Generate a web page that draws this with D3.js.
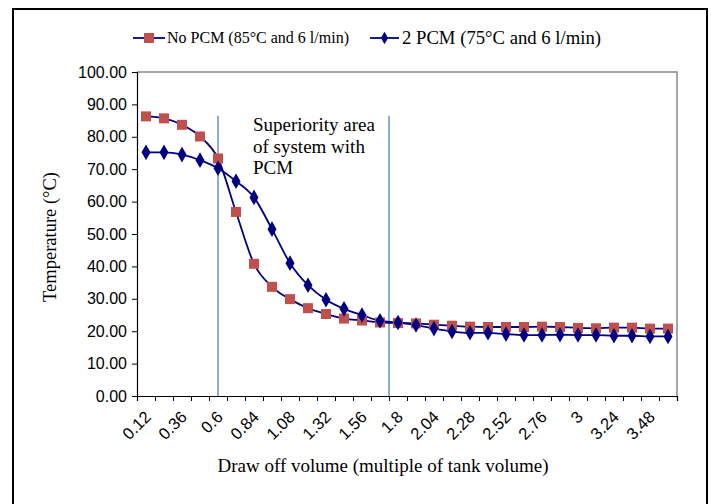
<!DOCTYPE html>
<html>
<head>
<meta charset="utf-8">
<script src="https://cdn.jsdelivr.net/npm/d3@7"></script>
<style>
  body { margin: 0; background: #fff; }
  svg { display: block; }
</style>
</head>
<body>
<div id="chart"></div>
<script>
// draw-off volume categories (multiple of tank volume)
var categories = ["0.12", "0.24", "0.36", "0.48", "0.6", "0.72", "0.84", "0.96", "1.08", "1.2",
  "1.32", "1.44", "1.56", "1.68", "1.8", "1.92", "2.04", "2.16", "2.28", "2.4",
  "2.52", "2.64", "2.76", "2.88", "3", "3.12", "3.24", "3.36", "3.48", "3.6"];

var noPcm = [86.3, 85.7, 83.7, 80.1, 73.3, 56.8, 40.8, 33.7, 29.9, 27.1,
  25.3, 23.9, 23.3, 22.7, 22.5, 22.4, 22.0, 21.7, 21.4, 21.3,
  21.3, 21.3, 21.4, 21.3, 21.0, 20.9, 21.1, 21.1, 20.8, 20.8];

var twoPcm = [75.2, 75.2, 74.5, 72.8, 70.3, 66.3, 61.3, 51.5, 41.0, 34.2,
  29.7, 26.9, 25.0, 23.2, 22.7, 21.9, 20.8, 19.9, 19.5, 19.5,
  19.1, 18.8, 18.8, 18.9, 18.8, 18.8, 18.6, 18.6, 18.4, 18.4];

var yTicks = [0, 10, 20, 30, 40, 50, 60, 70, 80, 90, 100];

// vertical lines bounding the "superiority" area, in category units
var dividerAt = [4.5, 14];
var dividerTop = 86.5;

var W = 711, H = 504;
var margin = {top: 72, right: 34, bottom: 108, left: 137},
    width = W - margin.left - margin.right,
    height = H - margin.top - margin.bottom;

var serif = "'Liberation Serif', 'Times New Roman', serif",
    sans = "'Liberation Sans', Arial, sans-serif";

var svg = d3.select("#chart").append("svg")
    .attr("width", W)
    .attr("height", H);

// outer frame
svg.append("rect")
    .attr("x", 13).attr("y", 9)
    .attr("width", 694).attr("height", 510)
    .attr("fill", "none")
    .attr("stroke", "#000")
    .attr("stroke-width", 2);

var g = svg.append("g")
    .attr("transform", "translate(" + margin.left + "," + margin.top + ")");

var x = d3.scaleBand().domain(categories).range([0, width]).padding(0);
var xi = d3.scaleLinear().domain([0, categories.length]).range([0, width]);
var y = d3.scaleLinear().domain([0, 100]).range([height, 0]);

// plot area border (top and right, grey)
g.append("path")
    .attr("d", "M0,0H" + width + "V" + height)
    .attr("fill", "none")
    .attr("stroke", "#888")
    .attr("stroke-width", 1.5);

// y axis
var yAxis = g.append("g")
    .call(d3.axisLeft(y).tickValues(yTicks).tickSize(5).tickFormat(d3.format(".2f")));
yAxis.select(".domain").attr("stroke", "#000").attr("stroke-width", 1.2);
yAxis.selectAll(".tick line").attr("stroke", "#000");
yAxis.selectAll("text")
    .attr("x", -10)
    .style("font-family", sans)
    .style("font-size", "16px")
    .attr("fill", "#000");

// x axis: tick marks between categories
var xAxis = g.append("g")
    .attr("transform", "translate(0," + height + ")")
    .call(d3.axisBottom(xi).tickValues(d3.range(categories.length + 1)).tickSize(5).tickFormat(""));
xAxis.select(".domain").attr("stroke", "#000").attr("stroke-width", 1.2);
xAxis.selectAll(".tick line").attr("stroke", "#000");

// x labels, every other category, rotated
var xLab = g.append("g")
    .attr("transform", "translate(0," + height + ")")
    .call(d3.axisBottom(x).tickSize(0).tickValues(categories.filter(function(d, i) { return i % 2 === 0; })));
xLab.select(".domain").remove();
xLab.selectAll("text")
    .attr("y", 0).attr("dy", 0)
    .attr("transform", "translate(6,22) rotate(-45)")
    .style("text-anchor", "end")
    .style("font-family", sans)
    .style("font-size", "16.5px")
    .attr("fill", "#000");

// divider lines
g.selectAll(".divider")
    .data(dividerAt)
    .enter().append("line")
    .attr("class", "divider")
    .attr("x1", function(d) { return xi(d); })
    .attr("x2", function(d) { return xi(d); })
    .attr("y1", y(dividerTop))
    .attr("y2", height)
    .attr("stroke", "#4F81BD")
    .attr("stroke-width", 1.3);

var cx = function(d, i) { return x(categories[i]) + x.bandwidth() / 2; };

var line = d3.line()
    .x(function(d, i) { return x(categories[i]) + x.bandwidth() / 2; })
    .y(function(d) { return y(d); })
    .curve(d3.curveMonotoneX);

// series 2 PCM
g.append("path").datum(twoPcm)
    .attr("d", line).attr("fill", "none")
    .attr("stroke", "#000080").attr("stroke-width", 1.8);
// series No PCM
g.append("path").datum(noPcm)
    .attr("d", line).attr("fill", "none")
    .attr("stroke", "#000080").attr("stroke-width", 1.8);

g.selectAll(".sq")
    .data(noPcm)
    .enter().append("rect")
    .attr("class", "sq")
    .attr("x", function(d, i) { return cx(d, i) - 5; })
    .attr("y", function(d) { return y(d) - 5; })
    .attr("width", 10).attr("height", 10)
    .attr("fill", "#C0504D");

var diamond = d3.symbol().type(d3.symbolDiamond).size(70);
g.selectAll(".dm")
    .data(twoPcm)
    .enter().append("path")
    .attr("class", "dm")
    .attr("d", diamond)
    .attr("transform", function(d, i) { return "translate(" + cx(d, i) + "," + y(d) + ")"; })
    .attr("fill", "#000080");

// annotation
var note = g.append("text")
    .attr("x", 116)
    .attr("y", 59)
    .style("font-family", serif)
    .style("font-size", "19px")
    .attr("fill", "#000");
["Superiority area", "of system with", "PCM"].forEach(function(t, i) {
  note.append("tspan").attr("x", 116).attr("dy", i === 0 ? 0 : 21.5).text(t);
});

// axis titles
svg.append("text")
    .attr("x", 383)
    .attr("y", 472)
    .attr("text-anchor", "middle")
    .style("font-family", serif)
    .style("font-size", "19px")
    .text("Draw off volume (multiple of tank volume)");

svg.append("text")
    .attr("transform", "translate(56,237) rotate(-90)")
    .attr("text-anchor", "middle")
    .style("font-family", serif)
    .style("font-size", "18.5px")
    .text("Temperature (°C)");

// legend
var legend = svg.append("g");
var leg1 = legend.append("g").attr("transform", "translate(133,38)");
leg1.append("line").attr("x1", 0).attr("x2", 32).attr("stroke", "#000080").attr("stroke-width", 1.8);
leg1.append("rect").attr("x", 11).attr("y", -5).attr("width", 10).attr("height", 10).attr("fill", "#C0504D");
leg1.append("text").attr("x", 34).attr("y", 5)
    .style("font-family", serif)
    .style("font-size", "16px")
    .text("No PCM (85°C and 6 l/min)");

var leg2 = legend.append("g").attr("transform", "translate(370,38)");
leg2.append("line").attr("x1", 0).attr("x2", 29).attr("stroke", "#000080").attr("stroke-width", 1.8);
leg2.append("path").attr("d", d3.symbol().type(d3.symbolDiamond).size(45))
    .attr("transform", "translate(14.5,0)").attr("fill", "#000080");
leg2.append("text").attr("x", 32).attr("y", 6)
    .style("font-family", serif)
    .style("font-size", "18.7px")
    .text("2 PCM (75°C and 6 l/min)");
</script>
</body>
</html>
